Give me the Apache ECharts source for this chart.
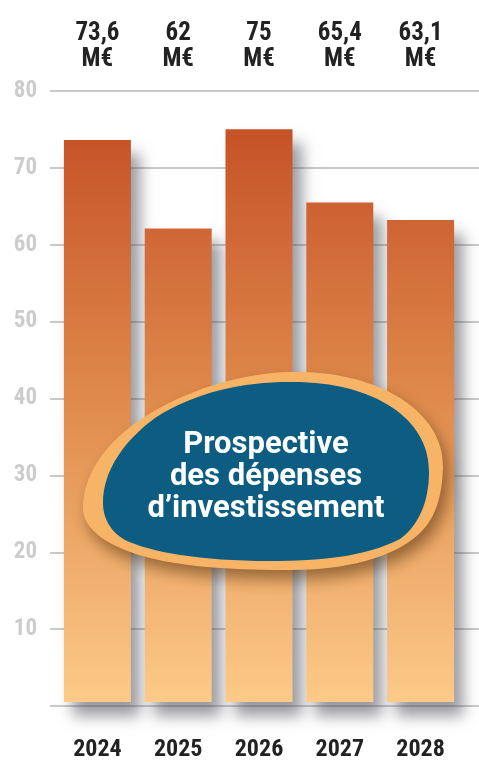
<!DOCTYPE html>
<html><head><meta charset="utf-8">
<script src="https://cdn.jsdelivr.net/npm/echarts@6/dist/echarts.min.js"></script>
<style>html,body{margin:0;padding:0;background:#fff}#c{width:479px;height:762px}</style>
</head><body><div id="c"></div>
<script>
const categories = ['2024','2025','2026','2027','2028'];
const values = [73.6, 62, 75, 65.4, 63.1];
const valueLabels = ['73,6', '62', '75', '65,4', '63,1'];
const title = ['Prospective', 'des dépenses', 'd’investissement'];

const chart = echarts.init(document.getElementById('c'));
const condensed = "'Roboto Condensed', 'Liberation Sans Narrow', 'Roboto', sans-serif";
const grad = new echarts.graphic.LinearGradient(0, 91, 0, 706, [
  {offset: 0, color: '#c24a22'},
  {offset: 0.5, color: '#df8a4c'},
  {offset: 1, color: '#fdcb89'}
], true);

const outerPath = 'M 292 372 C 375 370 445 410 443 468 C 442 498 435 518 421 532 C 395 558 345 570 290 570 C 240 570 190 568 150 558 C 110 548 82 530 83 507 C 84 470 110 440 140 420 C 185 390 240 373 292 372 Z';
const innerPath = 'M 290 382 C 372 381 430 418 429 472 C 429 503 418 526 400 539 C 365 557 320 561 270 561 C 200 561 150 552 125 540 C 108 530 103 515 103 503 C 103 470 125 440 155 418 C 195 392 243 382 290 382 Z';
echarts.graphic.registerShape('blobOuter', echarts.graphic.extendPath(outerPath, {}));
echarts.graphic.registerShape('blobInner', echarts.graphic.extendPath(innerPath, {}));

chart.setOption({
  animation: false,
  grid: [
    {left: 50, right: 0, top: 91, bottom: 56},
    {left: 57, right: 18, top: 91, bottom: 56}
  ],
  xAxis: [
    {gridIndex: 0, type: 'value', show: false, min: 0, max: 1},
    {gridIndex: 1, type: 'category', data: categories, position: 'bottom',
     axisLine: {show: false}, axisTick: {show: false},
     axisLabel: {margin: 36, color: '#222', fontSize: 24, fontWeight: 'bold', fontFamily: condensed}},
    {gridIndex: 1, type: 'category', data: categories, position: 'top',
     axisLine: {show: false}, axisTick: {show: false},
     axisLabel: {margin: 18, color: '#222', fontSize: 25, fontWeight: 'bold', fontFamily: condensed,
       lineHeight: 26, formatter: (v, i) => valueLabels[i] + '\nM€'}}
  ],
  yAxis: [
    {gridIndex: 0, type: 'value', min: 0, max: 80, interval: 10,
     axisLine: {show: false}, axisTick: {show: false},
     axisLabel: {margin: 13, color: '#cccccc', fontSize: 23, fontWeight: 'bold', fontFamily: condensed,
       formatter: v => (v === 0 ? '' : String(v))},
     splitLine: {lineStyle: {color: '#c9c9c9', width: 2}}},
    {gridIndex: 1, type: 'value', min: 0, max: 80, show: false, splitLine: {show: false}}
  ],
  series: [{
    type: 'bar', xAxisIndex: 1, yAxisIndex: 1, data: values, barWidth: 67,
    itemStyle: {color: grad, shadowColor: 'rgba(70,70,80,0.55)', shadowBlur: 14,
      shadowOffsetX: 9, shadowOffsetY: 14}
  }],
  graphic: [
    {type: 'blobOuter', z: 100,
     style: {fill: '#f8b466', shadowColor: 'rgba(60,30,0,0.5)', shadowBlur: 16, shadowOffsetX: 5, shadowOffsetY: 9}},
    {type: 'blobInner', z: 101, style: {fill: '#0c5d81'}},
    {type: 'text', z: 102, x: 266, y: 429,
     style: {text: title.join('\n'), fill: '#fff', font: "bold 31px Roboto, sans-serif",
       lineHeight: 32, align: 'center'}}
  ]
});
</script></body></html>
